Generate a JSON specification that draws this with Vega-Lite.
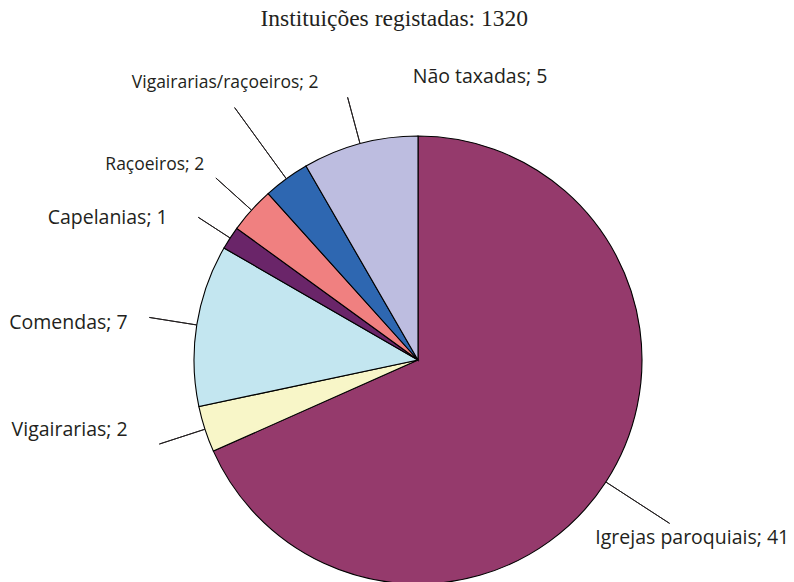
{
  "$schema": "https://vega.github.io/schema/vega-lite/v6.json",
  "width": 600,
  "height": 440,
  "autosize": {"type": "none"},
  "padding": {"left": 118, "top": 140, "right": 76, "bottom": 2},
  "background": "white",
  "title": {"text": "Instituições registadas: 1320", "font": "Liberation Serif", "fontSize": 23.5, "fontWeight": "normal", "color": "#231f20", "baseline": "alphabetic", "offset": 17, "frame": "bounds", "anchor": "middle", "dx": -5},
  "config": {"view": {"stroke": null}},
  "data": {"values": [
    {"cat": "Igrejas paroquiais", "value": 41, "order": 1, "label": "Igrejas paroquiais; 41"},
    {"cat": "Vigairarias", "value": 2, "order": 2, "label": "Vigairarias; 2"},
    {"cat": "Comendas", "value": 7, "order": 3, "label": "Comendas; 7"},
    {"cat": "Capelanias", "value": 1, "order": 4, "label": "Capelanias; 1"},
    {"cat": "Raçoeiros", "value": 2, "order": 5, "label": "Raçoeiros; 2"},
    {"cat": "Vigairarias/raçoeiros", "value": 2, "order": 6, "label": "Vigairarias/raçoeiros; 2"},
    {"cat": "Não taxadas", "value": 5, "order": 7, "label": "Não taxadas; 5"}
  ]},
  "transform": [
    {"stack": "value", "groupby": [], "sort": [{"field": "order", "order": "ascending"}], "as": ["s0", "s1"]}
  ],
  "layer": [
    {
      "mark": {"type": "arc", "radius": 224, "stroke": "#000000", "strokeWidth": 1.1},
      "encoding": {
        "theta": {"field": "s0", "type": "quantitative", "stack": null, "scale": {"domain": [0, 60]}},
        "theta2": {"field": "s1"},
        "color": {"field": "cat", "type": "nominal", "legend": null,
          "scale": {
            "domain": ["Igrejas paroquiais", "Vigairarias", "Comendas", "Capelanias", "Raçoeiros", "Vigairarias/raçoeiros", "Não taxadas"],
            "range": ["#953a6c", "#f8f6c8", "#c3e6f0", "#6a2569", "#f08080", "#2e67b1", "#bdbde0"]
          }}
      }
    },
    {
      "transform": [
        {"fold": ["s0", "s1"], "as": ["k", "v"]},
        {"aggregate": [{"op": "mean", "field": "v", "as": "mid"}], "groupby": ["cat", "label"]}
      ],
      "layer": [
        {
          "transform": [{"filter": "indexof(['Vigairarias','Comendas','Raçoeiros','Não taxadas'], datum.cat) >= 0"}],
          "mark": {"type": "arc", "radius": 272, "radius2": 224, "stroke": "#231f20", "strokeWidth": 1, "fillOpacity": 0},
          "encoding": {"theta": {"field": "mid", "type": "quantitative", "stack": null, "scale": {"domain": [0, 60]}}, "theta2": {"field": "mid"}}
        },
        {
          "transform": [{"filter": "datum.cat === 'Capelanias'"}],
          "mark": {"type": "arc", "radius": 262, "radius2": 224, "stroke": "#231f20", "strokeWidth": 1, "fillOpacity": 0},
          "encoding": {"theta": {"field": "mid", "type": "quantitative", "stack": null, "scale": {"domain": [0, 60]}}, "theta2": {"field": "mid"}}
        },
        {
          "transform": [{"filter": "datum.cat === 'Igrejas paroquiais'"}],
          "mark": {"type": "arc", "radius": 300, "radius2": 224, "stroke": "#231f20", "strokeWidth": 1, "fillOpacity": 0},
          "encoding": {"theta": {"field": "mid", "type": "quantitative", "stack": null, "scale": {"domain": [0, 60]}}, "theta2": {"field": "mid"}}
        },
        {
          "transform": [{"filter": "datum.cat === 'Vigairarias/raçoeiros'"}],
          "mark": {"type": "arc", "radius": 312, "radius2": 224, "stroke": "#231f20", "strokeWidth": 1, "fillOpacity": 0},
          "encoding": {"theta": {"field": "mid", "type": "quantitative", "stack": null, "scale": {"domain": [0, 60]}}, "theta2": {"field": "mid"}}
        },
        {
          "transform": [{"filter": "datum.cat === 'Igrejas paroquiais'"}],
          "mark": {"type": "text", "radius": 327, "align": "center", "baseline": "middle", "font": "Open Sans", "fontSize": 19.5, "color": "#231f20"},
          "encoding": {"theta": {"field": "mid", "type": "quantitative", "stack": null, "scale": {"domain": [0, 60]}}, "text": {"field": "label"}}
        },
        {
          "transform": [{"filter": "datum.cat === 'Vigairarias'"}],
          "mark": {"type": "text", "radius": 300, "align": "right", "baseline": "middle", "dx": -5, "dy": -23, "font": "Open Sans", "fontSize": 19.5, "color": "#231f20"},
          "encoding": {"theta": {"field": "mid", "type": "quantitative", "stack": null, "scale": {"domain": [0, 60]}}, "text": {"field": "label"}}
        },
        {
          "transform": [{"filter": "datum.cat === 'Comendas'"}],
          "mark": {"type": "text", "radius": 292, "align": "right", "baseline": "middle", "dx": -2, "dy": 9, "font": "Open Sans", "fontSize": 19.5, "color": "#231f20"},
          "encoding": {"theta": {"field": "mid", "type": "quantitative", "stack": null, "scale": {"domain": [0, 60]}}, "text": {"field": "label"}}
        },
        {
          "transform": [{"filter": "datum.cat === 'Capelanias'"}],
          "mark": {"type": "text", "radius": 265, "align": "right", "baseline": "middle", "dx": -28, "dy": 2, "font": "Open Sans", "fontSize": 19.5, "color": "#231f20"},
          "encoding": {"theta": {"field": "mid", "type": "quantitative", "stack": null, "scale": {"domain": [0, 60]}}, "text": {"field": "label"}}
        },
        {
          "transform": [{"filter": "datum.cat === 'Raçoeiros'"}],
          "mark": {"type": "text", "radius": 285, "align": "right", "baseline": "middle", "dx": -2, "dy": -4, "font": "Open Sans", "fontSize": 17.5, "color": "#231f20"},
          "encoding": {"theta": {"field": "mid", "type": "quantitative", "stack": null, "scale": {"domain": [0, 60]}}, "text": {"field": "label"}}
        },
        {
          "transform": [{"filter": "datum.cat === 'Vigairarias/raçoeiros'"}],
          "mark": {"type": "text", "radius": 335, "align": "center", "baseline": "middle", "dx": 4, "dy": -6, "font": "Open Sans", "fontSize": 17.5, "color": "#231f20"},
          "encoding": {"theta": {"field": "mid", "type": "quantitative", "stack": null, "scale": {"domain": [0, 60]}}, "text": {"field": "label"}}
        },
        {
          "transform": [{"filter": "datum.cat === 'Não taxadas'"}],
          "mark": {"type": "text", "radius": 283, "align": "left", "baseline": "middle", "dx": 68, "dy": -10, "font": "Open Sans", "fontSize": 19.5, "color": "#231f20"},
          "encoding": {"theta": {"field": "mid", "type": "quantitative", "stack": null, "scale": {"domain": [0, 60]}}, "text": {"field": "label"}}
        }
      ]
    }
  ]
}
